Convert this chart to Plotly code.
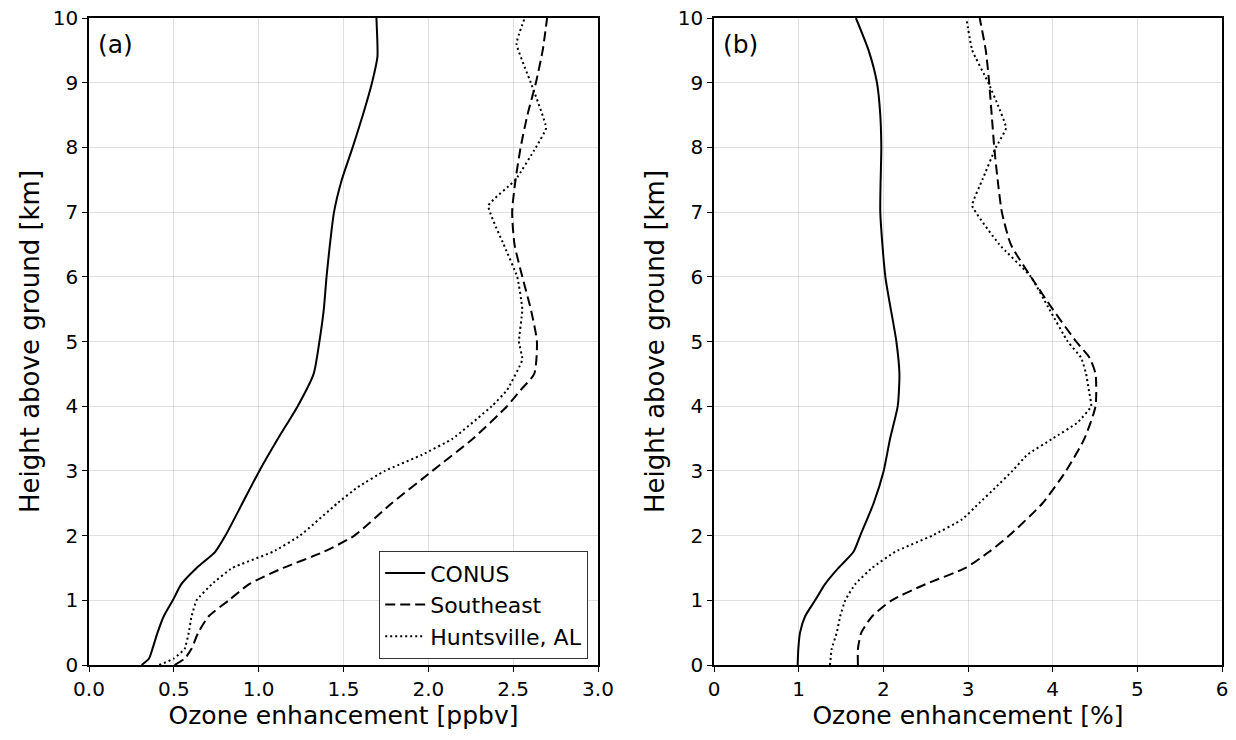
import plotly.graph_objects as go

# ---- Data ----
# Panel (a): ozone enhancement [ppbv]
conus_a_h = [0, 0.1, 0.25, 0.5, 0.75, 1, 1.25, 1.5, 1.75, 2, 2.5, 3, 3.5, 4, 4.5, 5, 5.5, 6, 6.5, 7, 7.5, 8, 8.5, 9, 9.4, 9.6, 10]
conus_a_v = [0.31, 0.354, 0.374, 0.404, 0.44, 0.494, 0.544, 0.634, 0.744, 0.804, 0.904, 1.004, 1.114, 1.23, 1.324, 1.358, 1.384, 1.40, 1.42, 1.444, 1.49, 1.554, 1.614, 1.668, 1.70, 1.70, 1.694]

se_a_h = [0, 0.1, 0.25, 0.5, 0.75, 1, 1.25, 1.5, 1.75, 2, 2.5, 3, 3.5, 4, 4.25, 4.5, 5, 5.5, 6, 6.5, 7, 7.5, 8, 8.5, 9, 9.5, 10]
se_a_v = [0.504, 0.564, 0.604, 0.644, 0.704, 0.824, 0.944, 1.144, 1.384, 1.564, 1.784, 2.024, 2.264, 2.464, 2.544, 2.624, 2.64, 2.604, 2.554, 2.508, 2.494, 2.514, 2.544, 2.584, 2.634, 2.674, 2.70]

hsv_a_h = [0, 0.1, 0.25, 0.5, 0.75, 1, 1.25, 1.5, 1.75, 2, 2.5, 2.75, 3, 3.25, 3.5, 4, 4.25, 4.72, 5, 5.5, 6, 6.5, 7.1, 7.5, 8, 8.3, 9, 9.6, 10]
hsv_a_v = [0.414, 0.50, 0.564, 0.588, 0.604, 0.634, 0.724, 0.844, 1.084, 1.244, 1.464, 1.584, 1.744, 1.964, 2.144, 2.374, 2.464, 2.554, 2.534, 2.554, 2.524, 2.444, 2.354, 2.514, 2.634, 2.694, 2.604, 2.52, 2.568]

# Panel (b): ozone enhancement [%]
conus_b_h = [0, 0.25, 0.5, 0.75, 1, 1.25, 1.5, 1.75, 2, 2.5, 3, 3.5, 4, 4.5, 5, 6, 7, 8, 8.5, 9, 9.5, 10]
conus_b_v = [0.988, 0.996, 1.016, 1.075, 1.194, 1.312, 1.47, 1.648, 1.727, 1.885, 2.004, 2.08, 2.17, 2.19, 2.154, 2.024, 1.964, 1.976, 1.964, 1.925, 1.826, 1.676]

se_b_h = [0, 0.25, 0.5, 0.75, 1, 1.25, 1.5, 1.75, 2, 2.5, 3, 3.5, 4, 4.5, 4.75, 5, 5.5, 6, 6.5, 7, 7.5, 8, 8.5, 9, 9.5, 10]
se_b_v = [1.70, 1.70, 1.74, 1.866, 2.10, 2.5, 2.97, 3.25, 3.486, 3.88, 4.158, 4.375, 4.506, 4.506, 4.435, 4.277, 4.0, 3.743, 3.506, 3.40, 3.35, 3.31, 3.28, 3.25, 3.21, 3.138]

hsv_b_h = [0, 0.25, 0.5, 0.75, 1, 1.25, 1.5, 1.75, 2, 2.25, 2.5, 2.75, 3, 3.25, 3.5, 3.75, 4, 4.25, 4.5, 4.75, 5, 5.5, 6, 6.5, 7.1, 7.5, 8, 8.3, 8.6, 9, 9.5, 10]
hsv_b_v = [1.37, 1.39, 1.45, 1.49, 1.55, 1.668, 1.866, 2.14, 2.577, 2.93, 3.13, 3.33, 3.525, 3.70, 4.0, 4.296, 4.455, 4.427, 4.395, 4.336, 4.178, 3.96, 3.743, 3.37, 3.05, 3.17, 3.33, 3.45, 3.37, 3.24, 3.05, 2.98]

series_names = ["CONUS", "Southeast", "Huntsville, AL"]
dashes = ["solid", "10px,5px", "2px,3px"]
smooth = [0.6, 0.6, 0.35]

x_title_a = "Ozone enhancement [ppbv]"
x_title_b = "Ozone enhancement [%]"
y_title = "Height above ground [km]"

FONT = "DejaVu Sans"

fig = go.Figure()

panel_a = [(conus_a_v, conus_a_h), (se_a_v, se_a_h), (hsv_a_v, hsv_a_h)]
panel_b = [(conus_b_v, conus_b_h), (se_b_v, se_b_h), (hsv_b_v, hsv_b_h)]

for i, (xv, yv) in enumerate(panel_a):
    fig.add_trace(go.Scatter(x=xv, y=yv, mode="lines", name=series_names[i],
                             line=dict(color="black", width=2, dash=dashes[i],
                                       shape="spline", smoothing=smooth[i]),
                             xaxis="x", yaxis="y", showlegend=True))
for i, (xv, yv) in enumerate(panel_b):
    fig.add_trace(go.Scatter(x=xv, y=yv, mode="lines", name=series_names[i],
                             line=dict(color="black", width=2, dash=dashes[i],
                                       shape="spline", smoothing=smooth[i]),
                             xaxis="x2", yaxis="y2", showlegend=False))

axis_common = dict(showline=True, linecolor="black", linewidth=1.5, mirror=True,
                   ticks="outside", ticklen=5, tickwidth=1.3, tickcolor="black",
                   showgrid=True, gridcolor="rgba(0,0,0,0.12)", gridwidth=1,
                   zeroline=False, automargin=False,
                   tickfont=dict(family=FONT, size=20, color="black"))

y0, y1 = 1 - 665 / 740, 1 - 18 / 740

fig.update_layout(
    width=1236, height=740,
    margin=dict(l=0, r=0, t=0, b=0),
    paper_bgcolor="white", plot_bgcolor="white",
    font=dict(family=FONT, color="black"),
    xaxis=dict(domain=[89 / 1236, 598 / 1236], range=[0, 3], dtick=0.5, tickformat=".1f",
               title=dict(text=x_title_a, font=dict(family=FONT, size=25), standoff=4),
               anchor="y", **axis_common),
    yaxis=dict(domain=[y0, y1], range=[0, 10], dtick=1,
               title=dict(text=y_title, font=dict(family=FONT, size=26), standoff=6),
               anchor="x", **axis_common),
    xaxis2=dict(domain=[714 / 1236, 1222 / 1236], range=[0, 6], dtick=1,
                title=dict(text=x_title_b, font=dict(family=FONT, size=25), standoff=4),
                anchor="y2", **axis_common),
    yaxis2=dict(domain=[y0, y1], range=[0, 10], dtick=1,
                title=dict(text=y_title, font=dict(family=FONT, size=26), standoff=6),
                anchor="x2", **axis_common),
    legend=dict(x=588 / 1236, y=1 - 551 / 740, xanchor="right", yanchor="top",
                bgcolor="white", bordercolor="#333333", borderwidth=1.2,
                font=dict(family=FONT, size=22, color="black"),
                itemwidth=40, tracegroupgap=0),
    annotations=[
        dict(text="(a)", xref="x domain", yref="y domain", x=0.014, y=0.985,
             xanchor="left", yanchor="top", showarrow=False,
             font=dict(family=FONT, size=25, color="black")),
        dict(text="(b)", xref="x2 domain", yref="y2 domain", x=0.014, y=0.985,
             xanchor="left", yanchor="top", showarrow=False,
             font=dict(family=FONT, size=25, color="black")),
    ],
)

fig.write_html("out.html")
